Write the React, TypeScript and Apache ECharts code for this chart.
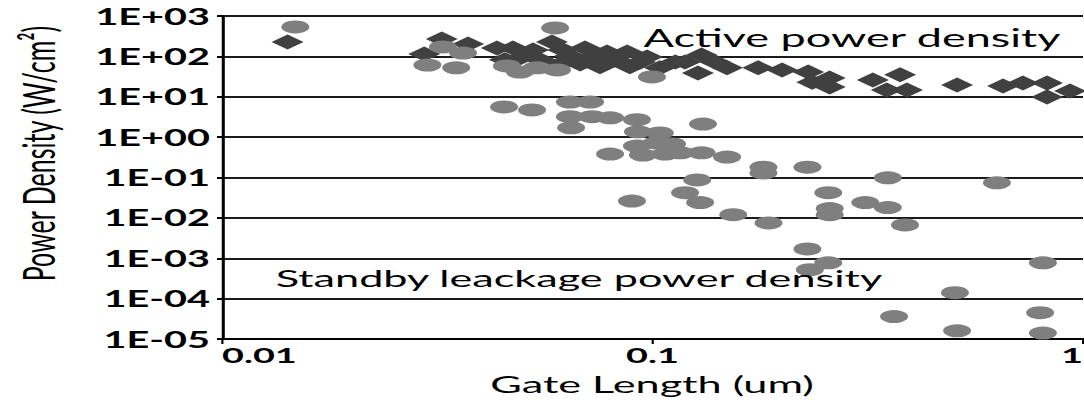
import React, { useEffect, useRef } from "react";
import * as echarts from "echarts";

// ---- data (gate length in um, power density in W/cm^2) ----
const activePoints: [number, number][] = [
  [0.0142, 227], [0.0295, 115], [0.0324, 270], [0.0373, 203], [0.0435, 161],
  [0.0454, 82], [0.0474, 161], [0.0492, 91], [0.0528, 144], [0.0548, 82],
  [0.0584, 227], [0.061, 65], [0.062, 144], [0.0643, 102], [0.0679, 65],
  [0.0697, 161], [0.0716, 91], [0.0755, 55], [0.0784, 128], [0.0818, 82],
  [0.0873, 128], [0.0886, 55], [0.0935, 73], [0.0971, 97], [0.104, 52],
  [0.113, 73], [0.119, 73], [0.1275, 39], [0.13, 108], [0.1397, 73],
  [0.149, 52], [0.176, 52], [0.2, 46], [0.23, 41], [0.235, 23],
  [0.258, 29], [0.258, 17.5], [0.325, 26], [0.35, 14.7], [0.376, 35],
  [0.39, 14.7], [0.51, 19.6], [0.652, 18.5], [0.725, 22], [0.825, 22],
  [0.825, 9.9], [0.933, 13.9],
];

const standbyPoints: [number, number][] = [
  [0.0148, 535], [0.0594, 505], [0.0326, 171], [0.0363, 121], [0.03, 61],
  [0.035, 52], [0.0459, 58], [0.0492, 41], [0.0539, 52], [0.06, 46],
  [0.0997, 31], [0.0452, 5.6], [0.0525, 4.7], [0.0643, 7.4], [0.0716, 7.4],
  [0.0643, 3.2], [0.0724, 3.2], [0.0797, 3.0], [0.092, 2.7], [0.0647, 1.7],
  [0.0925, 1.35], [0.104, 1.27], [0.131, 2.1], [0.092, 0.6], [0.102, 0.72],
  [0.111, 0.68], [0.0797, 0.38], [0.095, 0.36], [0.107, 0.38], [0.116, 0.41],
  [0.13, 0.41], [0.149, 0.32], [0.181, 0.18], [0.181, 0.13], [0.127, 0.087],
  [0.119, 0.042], [0.129, 0.024], [0.0896, 0.026], [0.154, 0.012], [0.186, 0.0075],
  [0.229, 0.18], [0.352, 0.098], [0.631, 0.074], [0.256, 0.042], [0.312, 0.024],
  [0.258, 0.017], [0.258, 0.012], [0.352, 0.018], [0.386, 0.0067], [0.229, 0.0017],
  [0.256, 0.00077], [0.232, 0.00052], [0.807, 0.00077], [0.504, 0.00014], [0.364, 0.000036],
  [0.795, 0.000045], [0.51, 0.000016], [0.807, 0.000014],
];

const xTickLabels = ["0.01", "0.1", "1"]; // decades 10^-2 .. 10^0
const yTickLabels = [
  "1E-05", "1E-04", "1E-03", "1E-02", "1E-01",
  "1E+00", "1E+01", "1E+02", "1E+03",
]; // decades 10^-5 .. 10^3

const xAxisTitle = "Gate Length (um)";
const yAxisTitle = "Power Density (W/cm²)";
const activeLabel = "Active power density";
const standbyLabel = "Standby leackage power density";

// ---- layout: chart drawn narrower, then stretched horizontally ----
const PAGE_W = 1084;
const PAGE_H = 405;
const CHART_W = 602;
const STRETCH = PAGE_W / CHART_W;
const px = (v: number) => v / STRETCH; // page x -> chart x

const FONT = "Lato, 'Open Sans', 'DejaVu Sans', sans-serif";

export default function App() {
  const ref = useRef<HTMLDivElement>(null);

  useEffect(() => {
    if (!ref.current) return;
    const chart = echarts.init(ref.current, null, {
      renderer: "svg",
      width: CHART_W,
      height: PAGE_H,
    });

    const xFmt = (v: number) => {
      const e = Math.round(Math.log10(v));
      return xTickLabels[e + 2] ?? String(v);
    };
    const yFmt = (v: number) => {
      const e = Math.round(Math.log10(v));
      return yTickLabels[e + 5] ?? String(v);
    };

    chart.setOption({
      animation: false,
      backgroundColor: "#ffffff",
      grid: {
        left: px(222),
        right: CHART_W - px(1083),
        top: 16,
        bottom: 66,
        containLabel: false,
        outerBoundsMode: "none",
      },
      xAxis: {
        type: "log",
        logBase: 10,
        min: 0.01,
        max: 1,
        splitNumber: 2,
        axisLine: { show: true, onZero: false, lineStyle: { color: "#000", width: 2 } },
        axisTick: { show: true, length: 5, lineStyle: { color: "#000", width: 1.2 } },
        minorTick: { show: false },
        splitLine: { show: false },
        axisLabel: {
          margin: 6,
          color: "#000",
          fontFamily: FONT,
          fontWeight: "bold",
          fontSize: 21,
          formatter: xFmt,
          alignMinLabel: "left",
          alignMaxLabel: "right",
        },
      },
      yAxis: {
        type: "log",
        logBase: 10,
        min: 1e-5,
        max: 1e3,
        splitNumber: 8,
        axisLine: { show: true, lineStyle: { color: "#000", width: 1.7 } },
        axisTick: { show: true, length: px(5), lineStyle: { color: "#000", width: 2 } },
        minorTick: { show: false },
        splitLine: { show: true, lineStyle: { color: "#1a1a1a", width: 2 } },
        axisLabel: {
          margin: px(12),
          color: "#000",
          fontFamily: FONT,
          fontWeight: "bold",
          fontSize: 22,
          formatter: yFmt,
        },
      },
      graphic: [
        {
          type: "text",
          x: px(37.5),
          y: 153.5,
          rotation: Math.PI / 2,
          style: {
            text: yAxisTitle,
            fontFamily: FONT,
            fontSize: 25,
            fill: "#000",
            align: "center",
            verticalAlign: "middle",
          },
        },
        {
          type: "text",
          x: px(852),
          y: 37,
          z: 10,
          style: {
            text: activeLabel,
            fontFamily: FONT,
            fontSize: 25,
            fill: "#000",
            align: "center",
            verticalAlign: "middle",
          },
        },
        {
          type: "text",
          x: px(579),
          y: 278,
          z: 10,
          style: {
            text: standbyLabel,
            fontFamily: FONT,
            fontSize: 24,
            fill: "#000",
            align: "center",
            verticalAlign: "middle",
          },
        },
        {
          type: "text",
          x: px(652),
          y: 384,
          style: {
            text: xAxisTitle,
            fontFamily: FONT,
            fontSize: 24,
            fill: "#000",
            align: "center",
            verticalAlign: "middle",
          },
        },
      ],
      series: [
        {
          name: activeLabel,
          type: "scatter",
          data: activePoints,
          symbol: "diamond",
          symbolSize: [px(32), 15],
          itemStyle: { color: "#404040", opacity: 1 },
          z: 2,
        },
        {
          name: standbyLabel,
          type: "scatter",
          data: standbyPoints,
          symbol: "circle",
          symbolSize: [px(28), 13],
          itemStyle: { color: "#7f7f7f", opacity: 1 },
          z: 3,
        },
      ],
    });

    return () => chart.dispose();
  }, []);

  return (
    <div
      style={{
        position: "fixed",
        left: 0,
        top: 0,
        width: PAGE_W,
        height: PAGE_H,
        overflow: "hidden",
        background: "#fff",
      }}
    >
      <div
        ref={ref}
        style={{
          width: CHART_W,
          height: PAGE_H,
          transform: `scaleX(${STRETCH})`,
          transformOrigin: "0 0",
        }}
      />
    </div>
  );
}
